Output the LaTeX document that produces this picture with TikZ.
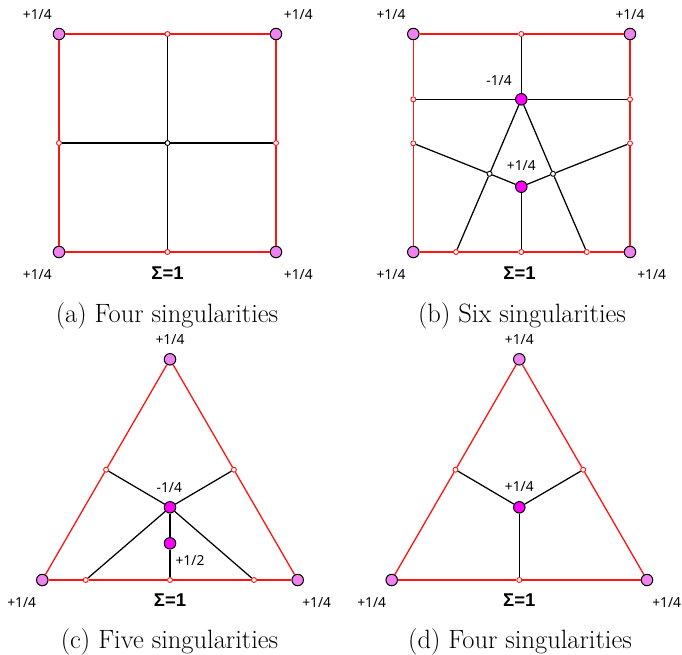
\documentclass[tikz,border=0pt]{standalone}
\usepackage{fontspec}
\newfontfamily\lblfont{Noto Sans}
\newfontfamily\sumfont{Liberation Sans}
\definecolor{cornerfill}{RGB}{238,130,238}
\definecolor{singfill}{RGB}{255,0,255}
\definecolor{edgered}{RGB}{255,20,20}
\begin{document}
\begin{tikzpicture}[x=1pt,y=-1pt,
  corner/.style={circle,draw=black,line width=1pt,fill=cornerfill,minimum size=11.5pt,inner sep=0pt},
  sing/.style={circle,draw=black,line width=1pt,fill=singfill,minimum size=11.5pt,inner sep=0pt},
  redpt/.style={circle,draw=edgered,line width=0.9pt,fill=white,minimum size=5pt,inner sep=0pt},
  blkpt/.style={circle,draw=black,line width=0.9pt,fill=white,minimum size=5pt,inner sep=0pt},
  redline/.style={draw=edgered,line width=1.3pt},
  blkline/.style={draw=black,line width=1.25pt},
  lbl/.style={anchor=base,inner sep=0pt,font=\lblfont\fontsize{13.8}{16}\selectfont},
  sumlbl/.style={anchor=base,inner sep=0pt,font=\sumfont\bfseries\fontsize{18.5}{21}\selectfont},
  captxt/.style={anchor=base,inner sep=0pt,font=\fontsize{26.5}{30}\selectfont}]
\useasboundingbox (0,0) rectangle (682,654);

% ---------- (a) ----------
\node[corner] (aTL) at (59,34) {};
\node[corner] (aTR) at (276,34) {};
\node[corner] (aBL) at (59,252) {};
\node[corner] (aBR) at (276,252) {};
\node[redpt] (aT) at (167.5,34) {};
\node[redpt] (aB) at (167.5,252) {};
\node[redpt] (aL) at (59,143) {};
\node[redpt] (aR) at (276,143) {};
\node[blkpt] (aC) at (167.5,143) {};
\draw[redline] (aTL) -- (aT); \draw[redline] (aT) -- (aTR);
\draw[redline] (aTR) -- (aR); \draw[redline] (aR) -- (aBR);
\draw[redline] (aBR) -- (aB); \draw[redline] (aB) -- (aBL);
\draw[redline] (aBL) -- (aL); \draw[redline] (aL) -- (aTL);
\draw[blkline] (aT) -- (aC); \draw[blkline] (aC) -- (aB);
\draw[blkline] (aL) -- (aC); \draw[blkline] (aC) -- (aR);
\node[lbl] (aLtl) at (37.3,19) {+1/4};
\node[lbl] (aLtr) at (298.3,19) {+1/4};
\node[lbl] (aLbl) at (37.3,279.3) {+1/4};
\node[lbl] (aLbr) at (298.3,279.3) {+1/4};
\node[sumlbl] (aSum) at (167.5,279.3) {Σ=1};
\node[captxt] (aCap) at (167,322) {(a) Four singularities};

% ---------- (b) ----------
\node[corner] (bTL) at (413.3,34) {};
\node[corner] (bTR) at (630,34) {};
\node[corner] (bBL) at (413.3,252) {};
\node[corner] (bBR) at (630,252) {};
\node[redpt] (bT) at (521.3,34) {};
\node[redpt] (bL1) at (413.3,99.3) {};
\node[redpt] (bR1) at (630,99.3) {};
\node[redpt] (bL2) at (413.3,143.3) {};
\node[redpt] (bR2) at (630,143.3) {};
\node[redpt] (bB1) at (456,252) {};
\node[redpt] (bB2) at (521.3,252) {};
\node[redpt] (bB3) at (586.7,252) {};
\node[sing] (bM1) at (521.3,99.3) {};
\node[sing] (bM2) at (521.3,186.7) {};
\node[blkpt] (bWL) at (489.6,173.8) {};
\node[blkpt] (bWR) at (553.0,173.8) {};
\draw[redline] (bTL) -- (bT); \draw[redline] (bT) -- (bTR);
\draw[redline] (bTR) -- (bR1); \draw[redline] (bR1) -- (bR2); \draw[redline] (bR2) -- (bBR);
\draw[redline] (bBR) -- (bB3); \draw[redline] (bB3) -- (bB2); \draw[redline] (bB2) -- (bB1); \draw[redline] (bB1) -- (bBL);
\draw[redline] (bBL) -- (bL2); \draw[redline] (bL2) -- (bL1); \draw[redline] (bL1) -- (bTL);
\draw[blkline] (bT) -- (bM1);
\draw[blkline] (bL1) -- (bM1); \draw[blkline] (bM1) -- (bR1);
\draw[blkline] (bM1) -- (bWL); \draw[blkline] (bWL) -- (bB1);
\draw[blkline] (bM1) -- (bWR); \draw[blkline] (bWR) -- (bB3);
\draw[blkline] (bL2) -- (bWL); \draw[blkline] (bWL) -- (bM2);
\draw[blkline] (bM2) -- (bWR); \draw[blkline] (bWR) -- (bR2);
\draw[blkline] (bM2) -- (bB2);
\node[lbl] (bLtl) at (391,19) {+1/4};
\node[lbl] (bLtr) at (630,19) {+1/4};
\node[lbl] (bLbl) at (391,279.3) {+1/4};
\node[lbl] (bLbr) at (651.7,279.3) {+1/4};
\node[lbl] (bLm1) at (499,85) {-1/4};
\node[lbl] (bLm2) at (521.3,170.7) {+1/4};
\node[sumlbl] (bSum) at (519.5,279.3) {Σ=1};
\node[captxt] (bCap) at (522,322) {(b) Six singularities};

% ---------- (c) ----------
\node[corner] (cT) at (170,359.3) {};
\node[corner] (cBL) at (42.3,580) {};
\node[corner] (cBR) at (297.7,580) {};
\node[redpt] (cML) at (106.1,469.7) {};
\node[redpt] (cMR) at (233.9,469.7) {};
\node[redpt] (cB1) at (85.7,580) {};
\node[redpt] (cB2) at (170,580) {};
\node[redpt] (cB3) at (254,580) {};
\node[sing] (cM1) at (170,507.3) {};
\node[sing] (cM2) at (170,543.3) {};
\draw[redline] (cT) -- (cMR); \draw[redline] (cMR) -- (cBR);
\draw[redline] (cBR) -- (cB3); \draw[redline] (cB3) -- (cB2); \draw[redline] (cB2) -- (cB1); \draw[redline] (cB1) -- (cBL);
\draw[redline] (cBL) -- (cML); \draw[redline] (cML) -- (cT);
\draw[blkline] (cML) -- (cM1); \draw[blkline] (cM1) -- (cMR);
\draw[blkline] (cM1) -- (cB1); \draw[blkline] (cM1) -- (cB3);
\draw[blkline] (cM1) -- (cM2); \draw[blkline] (cM2) -- (cB2);
\node[lbl] (cLt) at (170,344) {+1/4};
\node[lbl] (cLbl) at (21.7,607.3) {+1/4};
\node[lbl] (cLbr) at (316.7,607.3) {+1/4};
\node[lbl] (cLm1) at (169.3,492.3) {-1/4};
\node[lbl] (cLm2) at (190,565) {+1/2};
\node[sumlbl] (cSum) at (170,606.7) {Σ=1};
\node[captxt] (cCap) at (169.5,648) {(c) Five singularities};

% ---------- (d) ----------
\node[corner] (dT) at (519.3,359.3) {};
\node[corner] (dBL) at (391.7,580) {};
\node[corner] (dBR) at (647,580) {};
\node[redpt] (dML) at (455.5,469.7) {};
\node[redpt] (dMR) at (583.2,469.7) {};
\node[redpt] (dB) at (519.3,580) {};
\node[sing] (dM) at (519.3,507.3) {};
\draw[redline] (dT) -- (dMR); \draw[redline] (dMR) -- (dBR);
\draw[redline] (dBR) -- (dB); \draw[redline] (dB) -- (dBL);
\draw[redline] (dBL) -- (dML); \draw[redline] (dML) -- (dT);
\draw[blkline] (dML) -- (dM); \draw[blkline] (dM) -- (dMR);
\draw[blkline] (dM) -- (dB);
\node[lbl] (dLt) at (519.3,344) {+1/4};
\node[lbl] (dLbl) at (371.7,607.3) {+1/4};
\node[lbl] (dLbr) at (666.7,607.3) {+1/4};
\node[lbl] (dLm) at (519.3,491.7) {+1/4};
\node[sumlbl] (dSum) at (519.3,606.7) {Σ=1};
\node[captxt] (dCap) at (520,648) {(d) Four singularities};
\end{tikzpicture}
\end{document}
